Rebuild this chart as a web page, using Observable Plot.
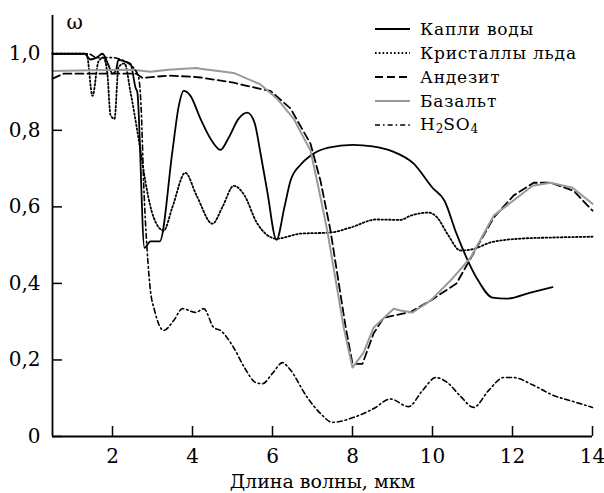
<!DOCTYPE html>
<html><head><meta charset="utf-8">
<script src="https://cdn.jsdelivr.net/npm/d3@7"></script>
<script src="https://cdn.jsdelivr.net/npm/@observablehq/plot@0.6"></script>
<style>
body{margin:0;background:#fff;}
#wrap{position:relative;width:604px;height:493px;}
#legend{position:absolute;left:375px;top:17px;font-family:"DejaVu Serif",serif;font-size:17px;letter-spacing:0.8px;color:#000;}
#legend .row{display:flex;align-items:center;height:24px;}
#legend svg{margin-right:10px;}
sub{font-size:12px;vertical-align:-3px;letter-spacing:0;}
</style></head>
<body><div id="wrap"><div id="legend"></div></div>
<script>
const seriesNames = ["Капли воды", "Кристаллы льда", "Андезит", "Базальт", "H2SO4"];
const xTicks = [2, 4, 6, 8, 10, 12, 14];
const yTicks = [0, 0.2, 0.4, 0.6, 0.8, 1.0];

const water = [[0.5,1.0],[1.3,1.0],[1.45,0.985],[1.6,0.99],[1.75,1.0],[1.9,0.97],[2.0,0.948],[2.08,0.955],[2.15,0.984],[2.3,0.98],[2.45,0.974],[2.58,0.91],[2.62,0.9],[2.8,0.493],[2.95,0.51],[3.18,0.51],[3.5,0.747],[3.65,0.86],[3.78,0.903],[3.95,0.89],[4.2,0.83],[4.5,0.77],[4.7,0.749],[4.9,0.78],[5.15,0.83],[5.37,0.846],[5.55,0.82],[5.7,0.74],[5.87,0.64],[6.1,0.514],[6.3,0.6],[6.45,0.668],[6.7,0.71],[6.95,0.734],[7.4,0.755],[8.0,0.762],[8.5,0.758],[9.0,0.745],[9.53,0.713],[10.0,0.65],[10.3,0.616],[10.6,0.53],[11.1,0.415],[11.5,0.363],[11.85,0.36],[12.45,0.376],[13.0,0.39]];

const ice = [[0.5,1.0],[1.35,1.0],[1.5,0.89],[1.65,0.98],[1.77,0.99],[1.87,0.95],[1.95,0.84],[2.05,0.83],[2.15,0.965],[2.3,0.975],[2.45,0.9],[2.7,0.747],[2.85,0.65],[3.03,0.572],[3.28,0.538],[3.5,0.6],[3.82,0.689],[4.1,0.63],[4.5,0.556],[4.75,0.6],[5.03,0.655],[5.3,0.63],[5.6,0.56],[6.1,0.517],[6.7,0.53],[7.45,0.533],[7.95,0.546],[8.6,0.567],[9.2,0.566],[9.45,0.577],[9.9,0.585],[10.12,0.572],[10.37,0.53],[10.7,0.486],[11.03,0.49],[11.45,0.507],[12.2,0.517],[13.03,0.52],[14.0,0.522]];

const andesite = [[0.5,0.935],[0.78,0.948],[1.5,0.948],[2.6,0.948],[2.75,0.937],[3.4,0.943],[4.0,0.94],[4.2,0.938],[5.0,0.925],[5.7,0.908],[5.95,0.903],[6.45,0.857],[6.95,0.765],[7.2,0.668],[7.45,0.538],[7.83,0.285],[8.0,0.19],[8.25,0.19],[8.53,0.27],[8.78,0.31],[9.2,0.32],[9.45,0.325],[9.95,0.355],[10.6,0.4],[10.87,0.45],[11.53,0.572],[12.03,0.63],[12.53,0.663],[12.95,0.663],[13.53,0.642],[14.0,0.59]];

const basalt = [[0.5,0.955],[1.5,0.957],[2.5,0.958],[2.95,0.953],[3.4,0.958],[4.1,0.963],[4.2,0.961],[5.03,0.95],[5.7,0.92],[6.12,0.882],[6.53,0.83],[6.95,0.747],[7.15,0.65],[7.37,0.538],[7.78,0.285],[8.0,0.18],[8.28,0.22],[8.53,0.285],[9.03,0.334],[9.2,0.329],[9.5,0.324],[9.95,0.355],[10.5,0.413],[10.95,0.467],[11.53,0.577],[12.5,0.655],[12.95,0.663],[13.5,0.65],[14.0,0.608]];

const h2so4 = [[0.5,1.0],[1.4,1.0],[1.6,0.99],[2.0,0.99],[2.2,0.985],[2.4,0.975],[2.55,0.96],[2.65,0.94],[2.72,0.85],[2.78,0.66],[2.87,0.48],[2.95,0.38],[3.05,0.33],[3.28,0.277],[3.53,0.303],[3.75,0.334],[4.08,0.324],[4.28,0.334],[4.53,0.285],[4.7,0.277],[5.03,0.232],[5.3,0.18],[5.58,0.141],[5.75,0.138],[6.0,0.165],[6.25,0.193],[6.4,0.18],[6.87,0.102],[7.2,0.06],[7.5,0.037],[8.03,0.05],[8.53,0.073],[8.95,0.098],[9.4,0.078],[9.75,0.12],[10.08,0.154],[10.37,0.141],[10.7,0.105],[11.03,0.076],[11.4,0.12],[11.78,0.154],[12.03,0.154],[12.5,0.135],[13.03,0.107],[13.5,0.092],[14.0,0.076]];

const styles = [
  {stroke:"#000", strokeWidth:1.8, dash:null, curve:"monotone-x"},
  {stroke:"#000", strokeWidth:1.8, dash:"1.6,2.2", curve:"monotone-x"},
  {stroke:"#000", strokeWidth:1.8, dash:"8,4", curve:"linear"},
  {stroke:"#999", strokeWidth:2, dash:null, curve:"linear"},
  {stroke:"#000", strokeWidth:1.6, dash:"5,3,1.6,3", curve:"monotone-x"}
];
const allData = [water, ice, andesite, basalt, h2so4];

const fmt = d => d === 0 ? "0" : d.toFixed(1).replace(".", ",");

const chart = Plot.plot({
  width: 604, height: 493,
  marginLeft: 52, marginRight: 12, marginTop: 15, marginBottom: 57,
  style: {fontFamily: "'DejaVu Serif', serif", fontSize: "20px", background: "#fff", color: "#000"},
  x: {domain: [0.5, 14]},
  y: {domain: [0, 1.1]},
  marks: [
    ...allData.map((d, i) => Plot.line(d, {x: p => p[0], y: p => p[1], stroke: styles[i].stroke, strokeWidth: styles[i].strokeWidth, strokeDasharray: styles[i].dash, curve: styles[i].curve})),
    Plot.axisX({ticks: xTicks, tickSize: -10, strokeWidth: 1.5, text: null, label: null}),
    Plot.axisX({ticks: xTicks, tickSize: 0, tickPadding: 12, label: null}),
    Plot.axisY({ticks: yTicks, tickSize: -10, strokeWidth: 1.5, text: null, label: null}),
    Plot.axisY({ticks: yTicks, tickSize: 0, tickPadding: 12, tickFormat: fmt, label: null}),
    Plot.ruleY([0], {strokeWidth: 1.8}),
    Plot.ruleX([0.5], {strokeWidth: 1.8}),
    Plot.text(["ω"], {frameAnchor: "top-left", dx: 14, dy: -1, fontSize: 20}),
    Plot.text(["Длина волны, мкм"], {frameAnchor: "bottom", lineAnchor: "bottom", dy: 51, fontSize: 19})
  ]
});
document.getElementById("wrap").prepend(chart);

const legend = document.getElementById("legend");
seriesNames.forEach((name, i) => {
  const row = document.createElement("div");
  row.className = "row";
  const s = styles[i];
  row.innerHTML = `<svg width="35" height="6"><line x1="0" y1="3" x2="35" y2="3" stroke="${s.stroke}" stroke-width="${s.strokeWidth}" ${s.dash ? `stroke-dasharray="${s.dash}"` : ""}/></svg>`;
  const span = document.createElement("span");
  if (name === "H2SO4") span.innerHTML = "H<sub>2</sub>SO<sub>4</sub>";
  else span.textContent = name;
  row.appendChild(span);
  legend.appendChild(row);
});
</script></body></html>
